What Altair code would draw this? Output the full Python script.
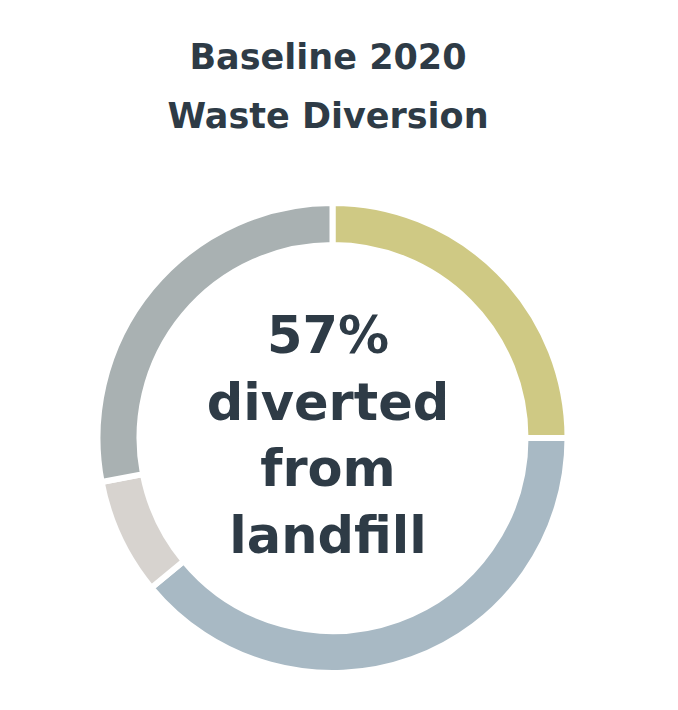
import altair as alt
import pandas as pd

# Data
categories = ["Recycled", "Composted", "Other", "Landfill"]
shares = [25, 39, 8, 28]
colors = ["#cfc984", "#a8b9c4", "#d7d3cf", "#a9b1b2"]
title_lines = ["Baseline 2020", "Waste Diversion"]
center_lines = ["57%", "diverted", "from", "landfill"]

df = pd.DataFrame({"category": categories, "share": shares, "order": list(range(len(categories)))})

W, H = 662, 694
CX, CY = 324.5, 430
TEXT = "#2e3b46"
FONT = "DejaVu Sans"

arc = alt.Chart(df).mark_arc(
    outerRadius=235, innerRadius=193, stroke="white", strokeWidth=6
).encode(
    theta=alt.Theta("share:Q", stack=True),
    order=alt.Order("order:Q"),
    color=alt.Color("category:N", scale=alt.Scale(domain=categories, range=colors), legend=None),
    x=alt.value(CX),
    y=alt.value(CY),
)

title = alt.Chart(pd.DataFrame({"t": [title_lines]})).mark_text(
    font=FONT, fontWeight="bold", fontSize=35, color=TEXT,
    align="center", baseline="alphabetic", lineHeight=59
).encode(text="t", x=alt.value(320), y=alt.value(61))

center = alt.Chart(pd.DataFrame({"t": [center_lines]})).mark_text(
    font=FONT, fontWeight="bold", fontSize=51, color=TEXT,
    align="center", baseline="alphabetic", lineHeight=66.5
).encode(text="t", x=alt.value(320), y=alt.value(345))

chart = alt.layer(arc, title, center).properties(
    width=W, height=H, autosize=alt.AutoSizeParams(type="none"), padding=0
).configure_view(stroke=None)

chart.save("out.html", embed_options={"renderer": "svg", "actions": False})
